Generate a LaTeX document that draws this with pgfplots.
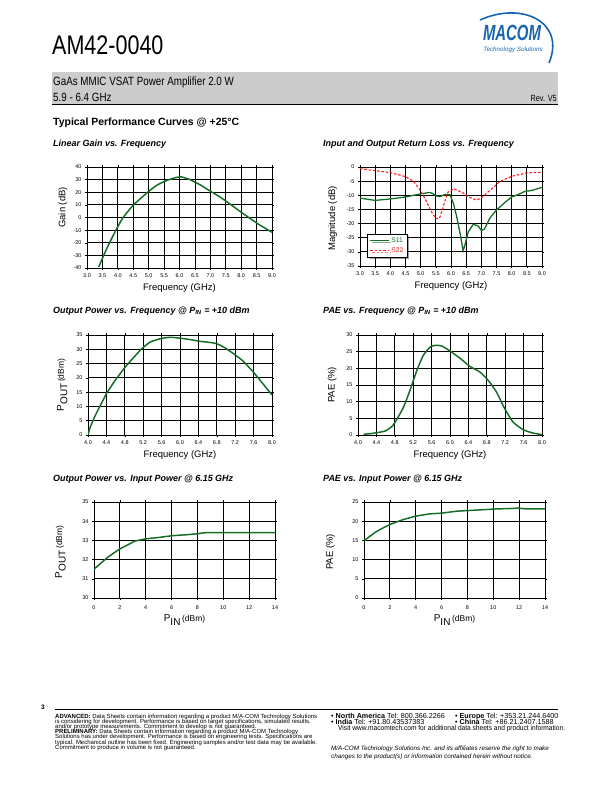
\documentclass[border=0pt]{standalone}
\usepackage{pgfplots}
\pgfplotsset{compat=1.18}
\usepackage{fontspec}
\setmainfont{Liberation Sans}
\usetikzlibrary{shadows}
\definecolor{cgreen}{RGB}{20,110,40}
\definecolor{cred}{RGB}{255,25,25}
\definecolor{band}{RGB}{204,204,204}
\definecolor{logoblue}{RGB}{25,100,175}
\newcommand{\fs}[1]{\fontsize{#1}{#1}\selectfont}
\pgfplotsset{
  dsheet/.style={
    scale only axis,
    grid=major,
    major grid style={black, line width=0.8pt},
    axis line style={black, line width=0.9pt},
    tick align=outside,
    major tick length=2bp,
    tick style={black, line width=0.5pt},
    tick label style={font=\fs{5.5}},
    label style={font=\fs{9.5}},
    xlabel style={at={(axis description cs:0.5,-0.2)},anchor=center},
  },
  curve/.style={cgreen, line width=1.5pt, smooth, tension=0.35, no markers},
}
\begin{document}
\begin{tikzpicture}[x=1bp,y=-1bp]
\path (0,0) rectangle (612,792);
% ---------- header ----------
\node[anchor=base west, inner sep=0] at (52,55) {\fs{27}\scalebox{0.8}[1]{AM42-0040}};
\node[anchor=center, inner sep=0, text=logoblue] at (512,33) {\fs{22}\bfseries\itshape\scalebox{0.68}[1]{MACOM}};
\node[anchor=center, inner sep=0, text=logoblue] at (513,50) {\fs{6.3}\itshape Technology Solutions};
\draw[logoblue, line width=1.6bp] (480,20) .. controls (522,1) and (566,22) .. (549,63);
\fill[band] (52,72) rectangle (558,104);
\draw[black, line width=1bp] (52,104.5) -- (558,104.5);
\node[anchor=base west, inner sep=0] at (53,85) {\fs{12}\scalebox{0.82}[1]{GaAs MMIC VSAT Power Amplifier 2.0 W}};
\node[anchor=base west, inner sep=0] at (53,101) {\fs{12}\scalebox{0.82}[1]{5.9 - 6.4 GHz}};
\node[anchor=base east, inner sep=0] at (557,101) {\fs{9}\scalebox{0.82}[1]{Rev. V5}};
\node[anchor=base west, inner sep=0] at (53,125) {\fs{10.5}\bfseries Typical Performance Curves @ +25°C};
% ---------- titles ----------
\node[anchor=west, inner sep=0] at (53,144) {\fs{9}\bfseries\itshape Linear Gain vs. Frequency};
\node[anchor=west, inner sep=0] at (323,144) {\fs{9}\bfseries\itshape Input and Output Return Loss vs. Frequency};
\node[anchor=west, inner sep=0] at (53,311) {\fs{9}\bfseries\itshape Output Power vs. Frequency @ P\textsubscript{IN} = +10 dBm};
\node[anchor=west, inner sep=0] at (323,311) {\fs{9}\bfseries\itshape PAE vs. Frequency @ P\textsubscript{IN} = +10 dBm};
\node[anchor=west, inner sep=0] at (53,479) {\fs{9}\bfseries\itshape Output Power vs. Input Power @ 6.15 GHz};
\node[anchor=west, inner sep=0] at (323,479) {\fs{9}\bfseries\itshape PAE vs. Input Power @ 6.15 GHz};
% ---------- anchors ----------
\coordinate (C1) at (87,268);
\coordinate (C2) at (360,266);
\coordinate (C3) at (88,435);
\coordinate (C4) at (358,435);
\coordinate (C5) at (94,598);
\coordinate (C6) at (364,598);
% ---------- chart 1 ----------
\begin{axis}[dsheet, at={(C1)}, anchor=south west, width=185bp, height=101bp,
  xmin=3, xmax=9, ymin=-40, ymax=40,
  xtick={3,3.5,4,4.5,5,5.5,6,6.5,7,7.5,8,8.5,9},
  xticklabels={3.0,3.5,4.0,4.5,5.0,5.5,6.0,6.5,7.0,7.5,8.0,8.5,9.0},
  ytick={-40,-30,-20,-10,0,10,20,30,40},
  yticklabels={-40,-30,-20,-10,0,10,20,30,40},
  xlabel={Frequency (GHz)}, ylabel={Gain (dB)},
  ylabel style={at={(axis description cs:-0.13,0.6)},anchor=center}]
\addplot[curve] coordinates {(3.38,-39.2) (3.65,-24.1) (3.92,-10.9) (4.16,-0.4) (4.51,10.0) (4.94,19.4) (5.26,25.5) (5.59,29.4) (5.91,31.8) (6.07,32.1) (6.34,30.0) (6.66,26.0) (6.99,21.0) (7.31,16.3) (7.63,10.8) (7.96,4.9) (8.28,-0.6) (8.6,-5.9) (9.0,-11.7)};
\end{axis}
% ---------- chart 2 ----------
\begin{axis}[dsheet, at={(C2)}, anchor=south west, width=182bp, height=99bp,
  xmin=3, xmax=9, ymin=-35, ymax=0,
  xtick={3,3.5,4,4.5,5,5.5,6,6.5,7,7.5,8,8.5,9},
  xticklabels={3.0,3.5,4.0,4.5,5.0,5.5,6.0,6.5,7.0,7.5,8.0,8.5,9.0},
  ytick={-35,-30,-25,-20,-15,-10,-5,0},
  yticklabels={-35,-30,-25,-20,-15,-10,-5,0},
  xlabel={Frequency (GHz)}, ylabel={Magnitude (dB)},
  ylabel style={at={(axis description cs:-0.15,0.48)},anchor=center},
  legend style={at={(axis cs:3.24,-23.6)}, anchor=north west, draw=black, line width=0.8pt, fill=white,
    font=\fs{6.8}, inner xsep=2pt, inner ysep=1.5pt, row sep=-0.5pt, cells={anchor=west},
    drop shadow={shadow xshift=2bp, shadow yshift=-2bp, fill=black!75}},
  legend image code/.code={\draw[#1] (0cm,0cm) -- (0.65cm,0cm);}]
\addplot[cgreen, line width=1.3pt, no markers] coordinates {(3.0,-11.0) (3.5,-11.8) (4.0,-11.3) (4.5,-10.6) (5.0,-9.5) (5.3,-9.0) (5.4,-9.4) (5.5,-10.2) (5.63,-10.5) (5.8,-9.7) (5.97,-9.8) (6.08,-12.9) (6.19,-17.6) (6.3,-23.5) (6.4,-29.6) (6.46,-27.6) (6.57,-22.9) (6.74,-20.2) (6.9,-20.9) (7.0,-22.4) (7.1,-22.0) (7.28,-18.1) (7.5,-15.2) (7.78,-12.5) (8.0,-10.6) (8.22,-9.7) (8.44,-8.6) (8.66,-8.3) (9.0,-7.2)};
\addlegendentry{\textcolor{cgreen}{S11}}
\addplot[cred, line width=1.1pt, dash pattern=on 2.5bp off 1.8bp, no markers] coordinates {(3.0,-0.6) (3.5,-1.3) (4.0,-2.0) (4.5,-3.4) (4.78,-5.2) (5.0,-8.5) (5.15,-11.3) (5.36,-15.9) (5.5,-18.2) (5.62,-18.2) (5.72,-15.0) (5.8,-12.0) (5.9,-8.9) (6.1,-7.7) (6.4,-9.2) (6.62,-10.8) (6.84,-11.7) (7.0,-10.9) (7.3,-8.1) (7.6,-5.2) (8.0,-3.3) (8.5,-2.1) (9.0,-1.9)};
\addlegendentry{\textcolor{cred}{S22}}
\end{axis}
% ---------- chart 3 ----------
\begin{axis}[dsheet, at={(C3)}, anchor=south west, width=184bp, height=100bp,
  xmin=4, xmax=8, ymin=0, ymax=35,
  xtick={4,4.4,4.8,5.2,5.6,6,6.4,6.8,7.2,7.6,8},
  xticklabels={4.0,4.4,4.8,5.2,5.6,6.0,6.4,6.8,7.2,7.6,8.0},
  ytick={0,5,10,15,20,25,30,35},
  yticklabels={0,5,10,15,20,25,30,35},
  xlabel={Frequency (GHz)},
  ylabel={\fs{10}P\raisebox{-3.5bp}{OUT}\,{\fs{8.5}(dBm)}},
  ylabel style={at={(axis description cs:-0.14,0.5)},anchor=center}]
\addplot[curve] coordinates {(4.0,0) (4.05,2.8) (4.16,6.9) (4.27,10.4) (4.41,14.7) (4.59,19.1) (4.81,23.8) (4.99,27.1) (5.17,30.2) (5.35,32.5) (5.57,33.7) (5.78,34.2) (6.0,33.9) (6.22,33.4) (6.43,32.8) (6.65,32.4) (6.79,32.0) (6.97,30.6) (7.16,28.5) (7.37,25.9) (7.59,22.1) (7.8,18.0) (8.0,14.0)};
\end{axis}
% ---------- chart 4 ----------
\begin{axis}[dsheet, at={(C4)}, anchor=south west, width=184bp, height=100bp,
  xmin=4, xmax=8, ymin=0, ymax=30,
  xtick={4,4.4,4.8,5.2,5.6,6,6.4,6.8,7.2,7.6,8},
  xticklabels={4.0,4.4,4.8,5.2,5.6,6.0,6.4,6.8,7.2,7.6,8.0},
  ytick={0,5,10,15,20,25,30},
  yticklabels={0,5,10,15,20,25,30},
  xlabel={Frequency (GHz)}, ylabel={PAE (\%)},
  ylabel style={at={(axis description cs:-0.14,0.5)},anchor=center}]
\addplot[curve] coordinates {(4.12,0.2) (4.27,0.4) (4.41,0.7) (4.59,1.2) (4.74,2.6) (4.84,4.6) (4.99,8.4) (5.13,13.4) (5.28,19.4) (5.42,23.9) (5.57,26.4) (5.68,26.9) (5.82,26.7) (6.0,25.2) (6.22,23.0) (6.43,20.6) (6.65,18.9) (6.83,16.4) (7.01,12.9) (7.19,7.9) (7.37,3.9) (7.59,1.6) (7.8,0.6) (8.0,0.1)};
\end{axis}
% ---------- chart 5 ----------
\begin{axis}[dsheet, at={(C5)}, anchor=south west, width=181bp, height=96bp,
  xmin=0, xmax=14, ymin=30, ymax=35,
  xtick={0,2,4,6,8,10,12,14}, ytick={30,31,32,33,34,35},
  xticklabels={0,2,4,6,8,10,12,14}, yticklabels={30,31,32,33,34,35},
  xticklabel style={yshift=-2bp},
  xlabel={\fs{10}P\raisebox{-3.5bp}{IN}\,{\fs{8.5}(dBm)}},
  ylabel={\fs{10}P\raisebox{-3.5bp}{OUT}\,{\fs{8.5}(dBm)}},
  xlabel style={at={(axis description cs:0.5,-0.23)},anchor=center},
  ylabel style={at={(axis description cs:-0.185,0.48)},anchor=center}]
\addplot[curve] coordinates {(0,31.5) (0.44,31.76) (1.08,32.13) (1.99,32.55) (2.76,32.82) (3.15,32.96) (4.0,33.08) (4.96,33.15) (6.0,33.24) (7.03,33.29) (7.93,33.34) (8.58,33.4) (10,33.4) (12,33.4) (14,33.4)};
\end{axis}
% ---------- chart 6 ----------
\begin{axis}[dsheet, at={(C6)}, anchor=south west, width=181bp, height=96bp,
  xmin=0, xmax=14, ymin=0, ymax=25,
  xtick={0,2,4,6,8,10,12,14}, ytick={0,5,10,15,20,25},
  xticklabels={0,2,4,6,8,10,12,14}, yticklabels={0,5,10,15,20,25},
  xticklabel style={yshift=-2bp},
  xlabel={\fs{10}P\raisebox{-3.5bp}{IN}\,{\fs{8.5}(dBm)}},
  ylabel={PAE (\%)},
  xlabel style={at={(axis description cs:0.5,-0.23)},anchor=center},
  ylabel style={at={(axis description cs:-0.185,0.48)},anchor=center}]
\addplot[curve] coordinates {(0,14.9) (0.96,17.3) (1.99,19.1) (3.02,20.4) (4.0,21.3) (5.09,21.9) (6.0,22.1) (7.16,22.6) (8.19,22.8) (9.22,23.0) (10.26,23.2) (11.29,23.3) (11.94,23.4) (12.58,23.2) (14,23.2)};
\end{axis}
% ---------- footer ----------
\node[anchor=base west, inner sep=0] at (41,709) {\fs{6.5}\bfseries 3};
\draw[black, line width=0.9bp] (55,709.5) -- (558,709.5);
\begin{scope}[every node/.style={anchor=base west, inner sep=0, font=\fs{6}}]
\node at (55,718) {\textbf{ADVANCED:} Data Sheets contain information regarding a product M/A-COM Technology Solutions};
\node at (55,723.2) {is considering for development. Performance is based on target specifications, simulated results,};
\node at (55,728.4) {and/or prototype measurements. Commitment to develop is not guaranteed.};
\node at (55,733.6) {\textbf{PRELIMINARY:} Data Sheets contain information regarding a product M/A-COM Technology};
\node at (55,738.8) {Solutions has under development. Performance is based on engineering tests. Specifications are};
\node at (55,744) {typical. Mechanical outline has been fixed. Engineering samples and/or test data may be available.};
\node at (55,749.2) {Commitment to produce in volume is not guaranteed.};
\end{scope}
\begin{scope}[every node/.style={anchor=base west, inner sep=0, font=\fs{7.2}}]
\node at (331,718) {• \textbf{North America} Tel: 800.366.2266};
\node at (455,718) {• \textbf{Europe} Tel: +353.21.244.6400};
\node at (331,724) {• \textbf{India} Tel: +91.80.43537383};
\node at (455,724) {• \textbf{China} Tel: +86.21.2407.1588};
\node at (338,730.5) {\fs{7.2}\scalebox{0.92}[1]{Visit www.macomtech.com for additional data sheets and product information.}};
\node at (331,750) {\fs{6.3}\itshape M/A-COM Technology Solutions Inc. and its affiliates reserve the right to make};
\node at (331,758) {\fs{6.3}\itshape changes to the product(s) or information contained herein without notice.};
\end{scope}
\end{tikzpicture}
\end{document}
